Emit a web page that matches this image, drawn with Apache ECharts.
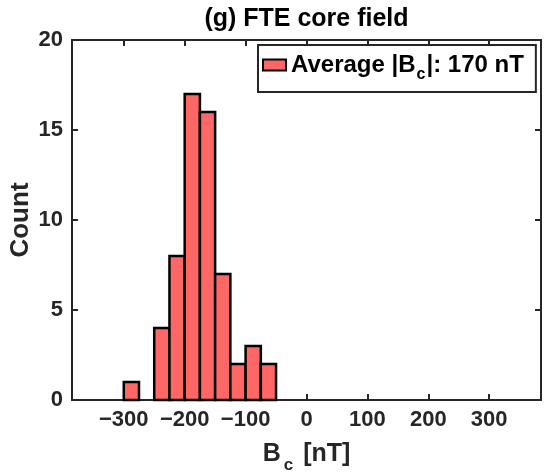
<!DOCTYPE html>
<html><head><meta charset="utf-8">
<script src="https://cdn.jsdelivr.net/npm/echarts@6/dist/echarts.min.js"></script>
<style>html,body{margin:0;padding:0;background:#fff}#c{width:546px;height:473px}</style>
</head><body><div id="c"></div>
<script>
// Histogram bins (bin edges in nT) and counts
const binStart = [-300, -275, -250, -225, -200, -175, -150, -125, -100, -75];
const binEnd   = [-275, -250, -225, -200, -175, -150, -125, -100, -75, -50];
const counts   = [1, 0, 4, 8, 17, 16, 7, 2, 3, 2];
const xTicks = [-300, -200, -100, 0, 100, 200, 300];
const yTicks = [0, 5, 10, 15, 20];
const titleText = '(g) FTE core field';
const legendName = 'Average |Bc|: 170 nT';

const FONT = 'Liberation Sans, Arial, Helvetica, sans-serif';
const AX = '#262626';
const FILL = '#FF6666';

const data = binStart.map((s, i) => [s, binEnd[i], counts[i]]).filter(d => d[2] > 0);
const fmtNum = v => String(v).replace('-', '\u2212');

const chart = echarts.init(document.getElementById('c'), null, {renderer: 'canvas'});
const axisLineStyle = {color: AX, width: 2};
chart.setOption({
  animation: false,
  backgroundColor: '#fff',
  title: {
    text: titleText, left: 306.5, textAlign: 'center', top: 7, padding: 0,
    textStyle: {fontFamily: FONT, fontSize: 25, fontWeight: 'bold', color: '#000'}
  },
  grid: {left: 72, right: 5, top: 40, bottom: 73, containLabel: false, outerBoundsMode: 'none'},
  legend: {
    data: [legendName],
    left: 258, top: 45, orient: 'horizontal',
    padding: [8, 12, 9, 4],
    borderColor: AX, borderWidth: 2, backgroundColor: '#fff',
    itemWidth: 23, itemHeight: 11, itemGap: 0,
    icon: 'rect',
    itemStyle: {color: FILL, borderColor: '#000', borderWidth: 2},
    formatter: function () { return '{b|Average |B}{s|c}{b||: 170 nT}'; },
    textStyle: {
      fontFamily: FONT, fontSize: 24, fontWeight: 'bold', color: '#000',
      rich: {
        b: {fontFamily: FONT, fontSize: 24, fontWeight: 'bold', color: '#000'},
        s: {fontFamily: FONT, fontSize: 16, fontWeight: 'bold', color: '#000', padding: [20, 1, 0, 1]}
      }
    }
  },
  xAxis: [{
    type: 'value', min: -385, max: 385,
    axisLine: {show: true, onZero: false, lineStyle: axisLineStyle},
    axisTick: {show: true, inside: true, length: 6, customValues: xTicks, lineStyle: axisLineStyle},
    axisLabel: {customValues: xTicks, formatter: fmtNum, margin: 9, fontFamily: FONT, fontSize: 22, fontWeight: 'bold', color: '#262626'},
    splitLine: {show: false},
    name: '{b|B}{s|c}{b| [nT]}', nameLocation: 'middle', nameGap: 35, nameMoveOverlap: false,
    nameTextStyle: {
      rich: {
        b: {fontFamily: FONT, fontSize: 25, fontWeight: 'bold', color: '#262626'},
        s: {fontFamily: FONT, fontSize: 17, fontWeight: 'bold', color: '#262626', padding: [22, 3, 0, 3]}
      }
    }
  }, {
    type: 'value', position: 'top', min: -385, max: 385,
    axisLine: {show: true, onZero: false, lineStyle: axisLineStyle},
    axisTick: {show: true, inside: true, length: 6, customValues: xTicks, lineStyle: axisLineStyle},
    axisLabel: {show: false}, splitLine: {show: false}
  }],
  yAxis: [{
    type: 'value', min: 0, max: 20, interval: 5,
    axisLine: {show: true, onZero: false, lineStyle: axisLineStyle},
    axisTick: {show: true, inside: true, length: 6, lineStyle: axisLineStyle},
    axisLabel: {margin: 9, formatter: fmtNum, fontFamily: FONT, fontSize: 22, fontWeight: 'bold', color: '#262626'},
    splitLine: {show: false},
    name: 'Count', nameLocation: 'middle', nameGap: 38, nameRotate: 90, nameMoveOverlap: false,
    nameTextStyle: {fontFamily: FONT, fontSize: 26, fontWeight: 'bold', color: '#262626'}
  }, {
    type: 'value', position: 'right', min: 0, max: 20, interval: 5,
    axisLine: {show: true, onZero: false, lineStyle: axisLineStyle},
    axisTick: {show: true, inside: true, length: 6, lineStyle: axisLineStyle},
    axisLabel: {show: false}, splitLine: {show: false}
  }],
  series: [{
    name: legendName,
    type: 'custom',
    xAxisIndex: 0, yAxisIndex: 0,
    itemStyle: {color: FILL, borderColor: '#000', borderWidth: 2.5},
    encode: {x: [0, 1], y: 2},
    renderItem: function (params, api) {
      const p0 = api.coord([api.value(0), api.value(2)]);
      const p1 = api.coord([api.value(1), 0]);
      return {
        type: 'rect',
        shape: {x: p0[0], y: p0[1], width: p1[0] - p0[0], height: p1[1] - p0[1]},
        style: {fill: FILL, stroke: '#000', lineWidth: 2.5}
      };
    },
    data: data,
    z: 1
  }]
});
</script></body></html>
